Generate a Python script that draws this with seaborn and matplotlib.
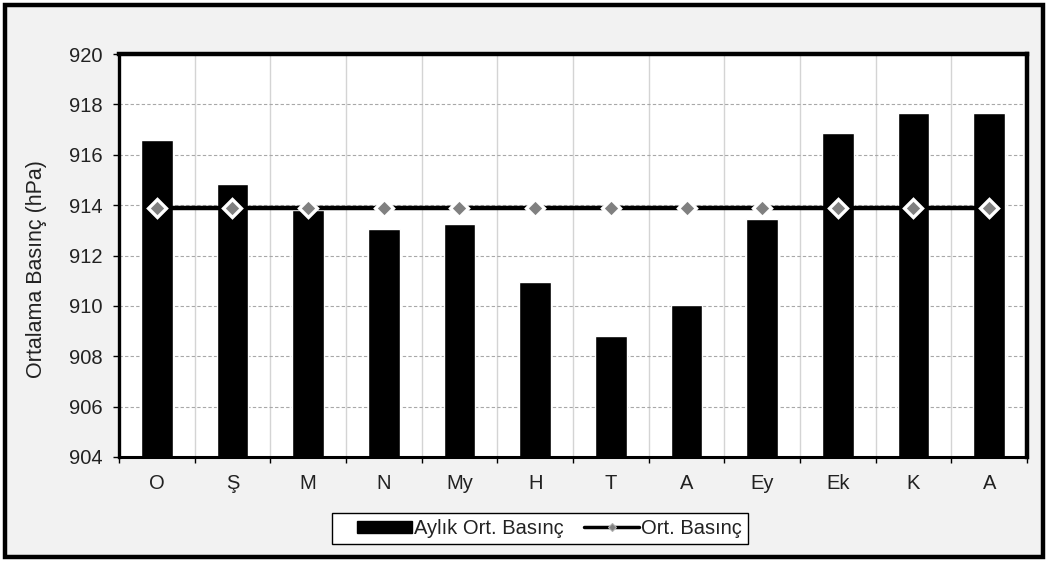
import matplotlib
matplotlib.use("Agg")
import matplotlib.pyplot as plt
from matplotlib.patches import Patch, Rectangle
from matplotlib.lines import Line2D
from matplotlib.ticker import FixedLocator
import seaborn as sns
import pandas as pd

# Monthly mean station pressure (hPa)
months = ["Ocak", "Şubat", "Mart", "Nisan", "Mayıs", "Haziran",
          "Temmuz", "Ağustos", "Eylül", "Ekim", "Kasım", "Aralık"]
month_labels = ["O", "Ş", "M", "N", "My", "H", "T", "A", "Ey", "Ek", "K", "A"]
monthly_pressure = [916.6, 914.85, 913.8, 913.05, 913.25, 910.95,
                    908.8, 910.05, 913.45, 916.85, 917.65, 917.65]
annual_mean = [913.9] * 12
y_ticks = [904, 906, 908, 910, 912, 914, 916, 918, 920]

df = pd.DataFrame({"ay": months, "aylik": monthly_pressure, "ort": annual_mean})

sns.set_theme(style="white")
plt.rcParams["font.family"] = ["Liberation Sans", "DejaVu Sans"]
TXT = "#222222"
FS = 14.5

W, H = 1048, 561
fig = plt.figure(figsize=(W / 100, H / 100), dpi=100, facecolor="white")
# outer panel with thick frame
fig.patches.append(Rectangle((0.005, 0.008), 0.99, 0.983, transform=fig.transFigure,
                             facecolor="#f2f2f2", edgecolor="black", linewidth=3.2,
                             zorder=-10))
ax = fig.add_axes([119 / W, 1 - 457 / H, 908 / W, 403 / H])
ax.set_zorder(1)
ax.set_facecolor("white")

sns.barplot(data=df, x="ay", y="aylik", order=months, color="black",
            width=0.42, saturation=1, ax=ax, zorder=3)
sns.pointplot(data=df, x="ay", y="ort", order=months, color="black",
              markers="D", errorbar=None, ax=ax,
              markerfacecolor="#808080", markeredgecolor="white",
              markersize=9.5, markeredgewidth=2.4, linewidth=3.2)
for ln in ax.lines:
    ln.set_zorder(5)
for coll in ax.collections:
    coll.set_zorder(6)

ax.set_ylim(904, 920)
ax.set_xlim(-0.5, 11.5)
ax.set_yticks(y_ticks)
ax.set_yticklabels([str(t) for t in y_ticks], fontsize=FS, color=TXT)
ax.set_xticks(range(12))
ax.set_xticklabels(month_labels, fontsize=FS, color=TXT)
ax.xaxis.set_minor_locator(FixedLocator([i + 0.5 for i in range(-1, 12)]))
ax.tick_params(axis="x", which="major", length=0, pad=12)
ax.tick_params(axis="x", which="minor", length=4.5, width=1, color="black",
               direction="out", bottom=True)
ax.tick_params(axis="y", length=4.5, width=1, color="black", direction="out",
               left=True, pad=7.5)

ax.grid(False)
ax.xaxis.grid(True, which="minor", color="#d4d4d4", linewidth=1, linestyle="-", zorder=0)
ax.yaxis.grid(True, which="major", color="#a8a8a8", linewidth=0.8,
              linestyle=(0, (3, 2)), zorder=0)
ax.set_axisbelow(True)

ax.set_xlabel("")
ax.set_ylabel("Ortalama Basınç (hPa)", fontsize=15.5, color=TXT)
ax.yaxis.set_label_coords(-0.0793, 0.4665)

spine_widths = {"left": 2.4, "top": 3.2, "right": 3.2, "bottom": 2.2}
for side, lw in spine_widths.items():
    ax.spines[side].set_visible(True)
    ax.spines[side].set_color("black")
    ax.spines[side].set_linewidth(lw)
    ax.spines[side].set_zorder(7)

# legend box drawn as its own frame, entries placed inside it
fig.patches.append(Rectangle((332 / W, 1 - 544 / H), 416 / W, 31 / H,
                             transform=fig.transFigure, facecolor="white",
                             edgecolor="black", linewidth=1.0, zorder=2))
handles = [
    Patch(facecolor="black", edgecolor="black"),
    Line2D([0], [0], color="black", linewidth=2.5, marker="D", markersize=4.5,
           markerfacecolor="#808080", markeredgecolor="#b0b0b0", markeredgewidth=0.8),
]
leg = fig.legend(handles, ["Aylık Ort. Basınç", "Ort. Basınç"], loc="center left",
                 bbox_to_anchor=(357 / W, 1 - 528.5 / H), ncol=2, fontsize=FS,
                 frameon=False, handlelength=2.74, handleheight=0.53,
                 handletextpad=0.1, columnspacing=1.0, borderpad=0,
                 borderaxespad=0)
leg.set_zorder(3)
for t in leg.get_texts():
    t.set_color(TXT)

fig.savefig("out.png", dpi=100, facecolor=fig.get_facecolor())
